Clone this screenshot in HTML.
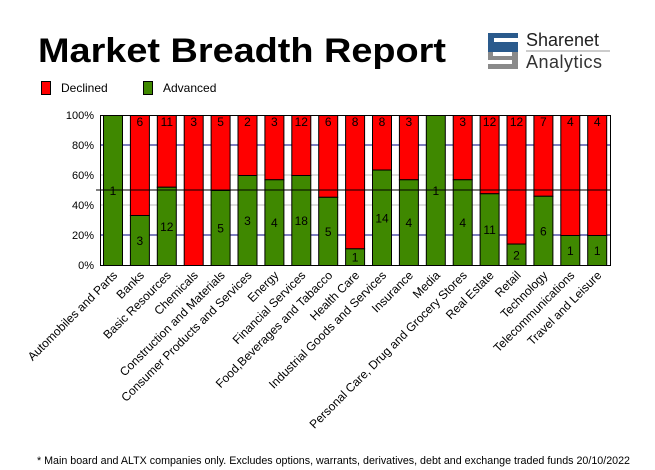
<!DOCTYPE html>
<html><head><meta charset="utf-8"><style>
html,body{margin:0;padding:0;background:#fff;}
svg{display:block;font-family:"Liberation Sans",sans-serif;}
</style></head><body>
<svg width="655" height="470" viewBox="0 0 655 470" xmlns="http://www.w3.org/2000/svg">
<rect width="655" height="470" fill="#fff"/>
<text x="38" y="62" font-size="34" font-weight="bold" textLength="408" lengthAdjust="spacingAndGlyphs" fill="#000">Market Breadth Report</text>
<!-- logo -->
<rect x="488" y="33" width="30" height="19" fill="#2a5a8c"/>
<rect x="494" y="38" width="24" height="4" fill="#fff"/>
<rect x="488" y="47" width="30" height="5" fill="#2a5a8c"/>
<rect x="488" y="52" width="30" height="17" fill="#8a8a8a"/>
<rect x="488" y="52" width="24" height="4" fill="#fff"/>
<rect x="488" y="60" width="24" height="4" fill="#fff"/>
<rect x="488" y="52" width="5" height="8" fill="#8a8a8a"/>
<text x="526" y="46" font-size="18" fill="#222">Sharenet</text>
<line x1="526" y1="51" x2="610" y2="51" stroke="#999" stroke-width="1"/>
<text x="526" y="68" font-size="18" fill="#333" letter-spacing="0.5">Analytics</text>
<!-- legend -->
<rect x="41.5" y="81.5" width="9" height="13" fill="#f00" stroke="#000"/>
<text x="61" y="92" font-size="12">Declined</text>
<rect x="143.5" y="81.5" width="9" height="13" fill="#3f8800" stroke="#000"/>
<text x="163" y="92" font-size="12">Advanced</text>
<g id="chart"></g>
<text x="37" y="464" font-size="11" textLength="593" lengthAdjust="spacingAndGlyphs">* Main board and ALTX companies only. Excludes options, warrants, derivatives, debt and exchange traded funds    20/10/2022</text>
</svg>
<script>
const data=[["Automobiles and Parts",1,0],["Banks",3,6],["Basic Resources",12,11],["Chemicals",0,3],["Construction and Materials",5,5],["Consumer Products and Services",3,2],["Energy",4,3],["Financial Services",18,12],["Food,Beverages and Tabacco",5,6],["Health Care",1,8],["Industrial Goods and Services",14,8],["Insurance",4,3],["Media",1,0],["Personal Care, Drug and Grocery Stores",4,3],["Real Estate",11,12],["Retail",2,12],["Technology",6,7],["Telecommunications",1,4],["Travel and Leisure",1,4]];
const g=document.getElementById('chart');let s='';
const L=100,R=610,T=115,B=265,H=150;
function y(p){return B-p*H;}
s+=`<line x1="${L}" y1="${y(.8)}" x2="${R}" y2="${y(.8)}" stroke="#000080"/>`;
s+=`<line x1="${L}" y1="${y(.2)}" x2="${R}" y2="${y(.2)}" stroke="#000080"/>`;
s+=`<line x1="${L}" y1="${y(.6)}" x2="${R}" y2="${y(.6)}" stroke="#bbb"/>`;
s+=`<line x1="${L}" y1="${y(.4)}" x2="${R}" y2="${y(.4)}" stroke="#bbb"/>`;
data.forEach((d,i)=>{const x=103+i*26.9,w=19,tot=d[1]+d[2],a=d[1]/tot;const ya=y(a);
if(d[2]>0)s+=`<rect x="${x+.5}" y="${T+.5}" width="${w}" height="${ya-T}" fill="#f00" stroke="#000"/>`;
if(d[1]>0)s+=`<rect x="${x+.5}" y="${ya+.5}" width="${w}" height="${B-ya}" fill="#3f8800" stroke="#000"/>`;
const cx=x+w/2+.5;
if(d[2]>0)s+=`<text x="${cx}" y="126" font-size="12" text-anchor="middle">${d[2]}</text>`;
if(d[1]>0)s+=`<text x="${cx}" y="${(ya+B)/2+5}" font-size="12" text-anchor="middle">${d[1]}</text>`;
s+=`<text transform="translate(${cx+5},276) rotate(-45)" font-size="12" text-anchor="end">${d[0]}</text>`;
});
s+=`<line x1="${L-4}" y1="${y(.5)}" x2="${R}" y2="${y(.5)}" stroke="#000"/>`;
s+=`<rect x="${L+.5}" y="${T+.5}" width="${R-L}" height="${H}" fill="none" stroke="#000"/>`;
[0,20,40,60,80,100].forEach(p=>{s+=`<text x="94" y="${y(p/100)+4}" font-size="11" text-anchor="end">${p}%</text>`;});
g.innerHTML=s;
</script>
</body></html>
